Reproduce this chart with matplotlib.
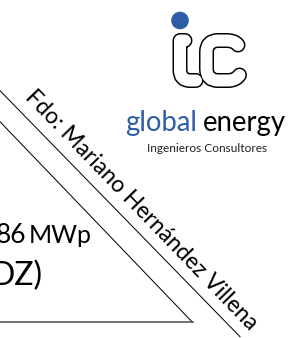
import matplotlib.pyplot as plt
from matplotlib.path import Path
from matplotlib.patches import PathPatch, Circle

# lienzo en pixeles (y hacia abajo)
W, H = 303, 338
PT = 0.72  # 1 px en puntos a 100 dpi

# lineas del triangulo
linea_sup = ([0, 240], [90.7, 336.7])
linea_inf = ([0, 192.5], [121.7, 322.3])
linea_base = ([0, 192.5], [322.3, 322.3])

# textos
firma = 'Fdo: Mariano Hernández Villena'
potencia = '86'
unidad = 'MWp'
ubicacion = 'DZ)'
marca_azul = 'global'
marca_negra = 'energy'
subtitulo = 'Ingenieros Consultores'

# logo "ic"
trazo_i = [(185, 40.5), (180, 40.5), (180, 70), (180, 80.5), (190, 80.5), (196, 80.5)]
cod_i = [Path.MOVETO, Path.LINETO, Path.LINETO, Path.CURVE3, Path.CURVE3, Path.LINETO]
trazo_c = [(238, 45), (235, 40.5), (226, 40.5), (218, 40.5), (206.5, 40.5), (206.5, 52),
           (206.5, 69), (206.5, 80.5), (218, 80.5), (228, 80.5), (236, 80.5), (239.5, 75)]
cod_c = [Path.MOVETO, Path.CURVE3, Path.CURVE3, Path.LINETO, Path.CURVE3, Path.CURVE3,
         Path.LINETO, Path.CURVE3, Path.CURVE3, Path.LINETO, Path.CURVE3, Path.CURVE3]
punto = (180, 20.5)

azul = '#2E5DA8'
plt.rcParams['font.family'] = ['Lato', 'DejaVu Sans']

fig = plt.figure(figsize=(W / 100, H / 100), dpi=100)
ax = fig.add_axes([0, 0, 1, 1])
ax.set_xlim(0, W)
ax.set_ylim(H, 0)
ax.axis('off')

ax.plot(*linea_sup, color='black', lw=1.0 * PT)
ax.plot(*linea_inf, color='black', lw=1.0 * PT)
ax.plot(*linea_base, color='#555555', lw=1.6 * PT)

for verts, codes in [(trazo_i, cod_i), (trazo_c, cod_c)]:
    p = Path(verts, codes)
    ax.add_patch(PathPatch(p, fill=False, ec='black', lw=15 * PT, capstyle='round', joinstyle='round'))
for verts, codes in [(trazo_i, cod_i), (trazo_c, cod_c)]:
    p = Path(verts, codes)
    ax.add_patch(PathPatch(p, fill=False, ec='white', lw=12 * PT, capstyle='round', joinstyle='round'))
ax.add_patch(Circle(punto, 8.8, color=azul, lw=0))

ax.text(125, 131, marca_azul, color=azul, fontsize=19.8, ha='left', va='baseline')
ax.text(203, 131, marca_negra, color='black', fontsize=19.8, ha='left', va='baseline')
ax.text(207, 152, subtitulo, color='#222222', fontsize=8.6, ha='center', va='baseline')

ax.text(24, 98, firma, fontsize=16.5, rotation=-46, rotation_mode='anchor',
        ha='left', va='baseline')

ax.text(26, 243, potencia, fontsize=19, ha='right', va='baseline')
ax.text(29, 243, unidad, fontsize=18, ha='left', va='baseline')
ax.text(42, 285, ubicacion, fontsize=23, ha='right', va='baseline')

fig.savefig('out.png', dpi=100)
